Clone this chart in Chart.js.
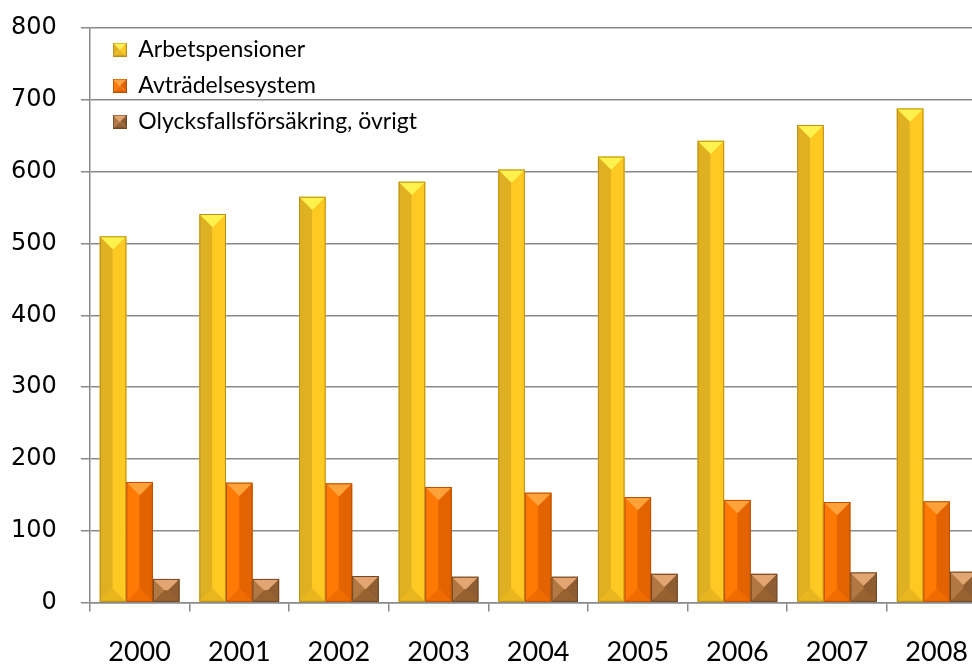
<!DOCTYPE html>
<html>
<head>
<meta charset="utf-8">
<script src="https://cdn.jsdelivr.net/npm/chart.js@4.4.0/dist/chart.umd.min.js"></script>
<style>
  html, body { margin: 0; padding: 0; background: #fff; overflow: hidden; }
  #wrap { position: relative; width: 992px; height: 692px; }
</style>
</head>
<body>
<div id="wrap"><canvas id="pensioner"></canvas></div>
<script>
// Data (miljarder kr)
const years = ['2000', '2001', '2002', '2003', '2004', '2005', '2006', '2007', '2008'];
const arbetspensioner = [510, 541, 565, 586, 603, 621, 643, 665, 688];
const avtradelsesystem = [168, 167, 166, 161, 153, 147, 143, 140, 141];
const olycksfall = [33, 33, 37, 36, 36, 40, 40, 42, 43];
const yTicks = [0, 100, 200, 300, 400, 500, 600, 700, 800];

const gridColor = '#8a8a8a';

// bevel faces: left, right, top, bottom, outline
const faces = [
  ['#DFB022', '#FFC923', '#FFF24E', '#E9B61E', '#B88F1A'],
  ['#FF7A05', '#E26300', '#FFA23A', '#F06C00', '#B95000'],
  ['#B27843', '#8E5D31', '#E3A571', '#97622F', '#6E4724']
];

function drawBevel(ctx, left, top, right, bottom, f) {
  const w = right - left, h = bottom - top;
  const b = Math.min(w / 2, h / 2, 13);
  const poly = (pts, color) => {
    ctx.beginPath();
    ctx.moveTo(pts[0][0], pts[0][1]);
    for (let i = 1; i < pts.length; i++) ctx.lineTo(pts[i][0], pts[i][1]);
    ctx.closePath();
    ctx.fillStyle = color;
    ctx.fill();
  };
  poly([[left, top], [left + b, top + b], [left + b, bottom - b], [left, bottom]], f[0]);
  poly([[right, top], [right - b, top + b], [right - b, bottom - b], [right, bottom]], f[1]);
  if (w > 2 * b) poly([[left + b, top + b], [right - b, top + b], [right - b, bottom - b], [left + b, bottom - b]], f[1]);
  poly([[left, top], [right, top], [right - b, top + b], [left + b, top + b]], f[2]);
  poly([[left, bottom], [right, bottom], [right - b, bottom - b], [left + b, bottom - b]], f[3]);
  ctx.strokeStyle = f[4];
  ctx.lineWidth = 1;
  ctx.strokeRect(left + 0.5, top + 0.5, w - 1, h - 1);
}

// small bevelled squares for the legend
const legendIcons = faces.map(f => {
  const c = document.createElement('canvas');
  c.width = 14; c.height = 14;
  drawBevel(c.getContext('2d'), 0, 0, 14, 14, f);
  return c;
});

const bevelPlugin = {
  id: 'bevel',
  afterDatasetsDraw(chart) {
    const ctx = chart.ctx, area = chart.chartArea;
    ctx.save();
    ctx.beginPath();
    ctx.rect(area.left, area.top - 2, area.right - area.left, area.bottom - area.top + 2);
    ctx.clip();
    chart.data.datasets.forEach((ds, i) => {
      chart.getDatasetMeta(i).data.forEach(bar => {
        const p = bar.getProps(['x', 'y', 'base', 'width'], true);
        drawBevel(ctx, p.x - p.width / 2, p.y, p.x + p.width / 2, p.base, faces[i]);
      });
    });
    ctx.restore();
  }
};

// nudge the legend a bit inside the plot area
const legendShift = {
  id: 'legendShift',
  afterLayout(chart) {
    chart.legend.left = chart.chartArea.left + 10;
    chart.legend.top = chart.chartArea.top - 3;
  }
};

const ctx = document.getElementById('pensioner');
new Chart(ctx, {
  type: 'bar',
  data: {
    labels: years,
    datasets: [
      { label: 'Arbetspensioner', data: arbetspensioner, backgroundColor: faces[0][1] },
      { label: 'Avträdelsesystem', data: avtradelsesystem, backgroundColor: faces[1][0] },
      { label: 'Olycksfallsförsäkring, övrigt', data: olycksfall, backgroundColor: faces[2][0] }
    ]
  },
  options: {
    responsive: true,
    maintainAspectRatio: false,
    animation: false,
    layout: { padding: { top: 28, left: -13, right: 0, bottom: 0 } },
    datasets: {
      bar: { categoryPercentage: 0.8, barPercentage: 1.0, borderWidth: 0 }
    },
    scales: {
      x: {
        grid: { drawOnChartArea: false, drawTicks: true, tickLength: 9, color: gridColor, lineWidth: 1.5 },
        border: { color: gridColor, width: 1.5 },
        ticks: { color: '#000', font: { family: 'Lato', size: 27 }, padding: 24, maxRotation: 0 }
      },
      y: {
        min: 0,
        max: 800,
        afterBuildTicks: axis => { axis.ticks = yTicks.map(v => ({ value: v })); },
        grid: { color: gridColor, lineWidth: 1.5, tickLength: 9 },
        border: { color: gridColor, width: 1.5 },
        ticks: { color: '#000', font: { family: "'DejaVu Sans', Verdana, sans-serif", size: 24, lineHeight: 0.3 }, padding: 24 }
      }
    },
    plugins: {
      tooltip: { enabled: false },
      legend: {
        position: 'chartArea',
        align: 'start',
        labels: {
          usePointStyle: true,
          boxWidth: 14,
          boxHeight: 14,
          padding: 13,
          font: { family: 'Lato', size: 23 },
          generateLabels: chart => chart.data.datasets.map((ds, i) => ({
            text: ds.label,
            pointStyle: legendIcons[i],
            fillStyle: ds.backgroundColor,
            strokeStyle: 'transparent',
            lineWidth: 0,
            fontColor: '#000',
            hidden: false,
            datasetIndex: i
          }))
        }
      }
    }
  },
  plugins: [bevelPlugin, legendShift]
});
</script>
</body>
</html>
